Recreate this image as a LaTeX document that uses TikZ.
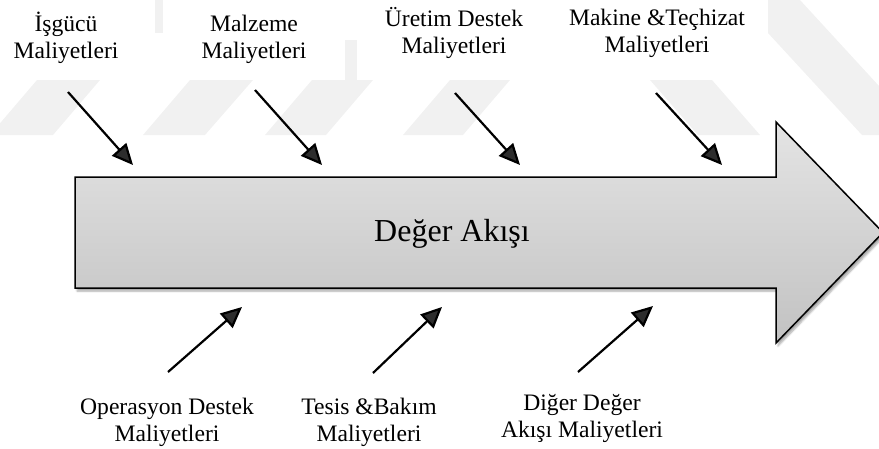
\documentclass[tikz,border=0pt]{standalone}
\usepackage{fontspec}
\setmainfont{Liberation Serif}
\usetikzlibrary{arrows.meta,shadows.blur}
\definecolor{markgray}{HTML}{F1F1F1}
\definecolor{flowtop}{HTML}{E4E4E4}
\definecolor{flowbot}{HTML}{C2C2C2}
% two centred lines, baseline at the last line
\newcommand\twoline[2]{\begin{tabular}[b]{@{}c@{}}#1\\#2\end{tabular}}
\begin{document}
\begin{tikzpicture}[x=1pt,y=-1pt,
  costtext/.style={font=\fontsize{23.6}{26.5}\selectfont, inner sep=0pt, anchor=base},
  flowtext/.style={font=\fontsize{32}{36}\selectfont, inner sep=0pt, anchor=base},
  costarrow/.style={line width=2.2pt, -{Triangle[length=21pt,width=19pt]}},
  flowbody/.style={draw=black, line width=1.5pt, line join=miter,
    top color=flowtop, bottom color=flowbot,
    blur shadow={shadow xshift=2pt, shadow yshift=-3pt, shadow blur steps=6, shadow opacity=35}}]
\useasboundingbox (0,0) rectangle (879,448);

% faint background stripes
\fill[markgray] (-10,135) -- (53,135) -- (100,80) -- (37,80) -- cycle;
\fill[markgray] (143,135) -- (205,135) -- (253,80) -- (190,80) -- cycle;
\fill[markgray] (265,135) -- (326,135) -- (373,80) -- (312,80) -- cycle;
\fill[markgray] (403,135) -- (463,135) -- (510,80) -- (450,80) -- cycle;
\fill[markgray] (650,80) -- (712,80) -- (760,135) -- (698,135) -- cycle;
\fill[markgray] (155,0) rectangle (163,33);
\fill[markgray] (345,40) rectangle (357,80);
\fill[markgray] (768,0) -- (800,0) -- (879,86) -- (879,135) -- (862,135) -- (768,33) -- cycle;

% value stream body
\path[flowbody] (75,177) -- (776,177) -- (776,122) -- (883,232.5)
  -- (776,343) -- (776,288) -- (75,288) -- cycle;
\node[flowtext] (flow) at (452,241) {Değer Akışı};

% cost labels
\node[costtext] (c1) at (66,58)  {\twoline{İşgücü}{Maliyetleri}};
\node[costtext] (c2) at (254,58) {\twoline{Malzeme}{Maliyetleri}};
\node[costtext] (c3) at (454,53) {\twoline{Üretim Destek}{Maliyetleri}};
\node[costtext] (c4) at (657,52) {\twoline{Makine \&Teçhizat}{Maliyetleri}};
\node[costtext] (c5) at (167,441) {\twoline{Operasyon Destek}{Maliyetleri}};
\node[costtext] (c6) at (369,441) {\twoline{Tesis \&Bakım}{Maliyetleri}};
\node[costtext] (c7) at (582,437) {\twoline{Diğer Değer}{Akışı Maliyetleri}};

% arrow end points
\coordinate (s1) at (68,92);   \coordinate (e1) at (133,165);
\coordinate (s2) at (255,90);  \coordinate (e2) at (322,165);
\coordinate (s3) at (455,93);  \coordinate (e3) at (520,165);
\coordinate (s4) at (656,93);  \coordinate (e4) at (722,165);
\coordinate (s5) at (168,372); \coordinate (e5) at (242,307);
\coordinate (s6) at (373,373); \coordinate (e6) at (442,307);
\coordinate (s7) at (578,372); \coordinate (e7) at (653,306);

\foreach \i in {1,...,7} \draw[costarrow] (s\i) -- (e\i);
\end{tikzpicture}
\end{document}
